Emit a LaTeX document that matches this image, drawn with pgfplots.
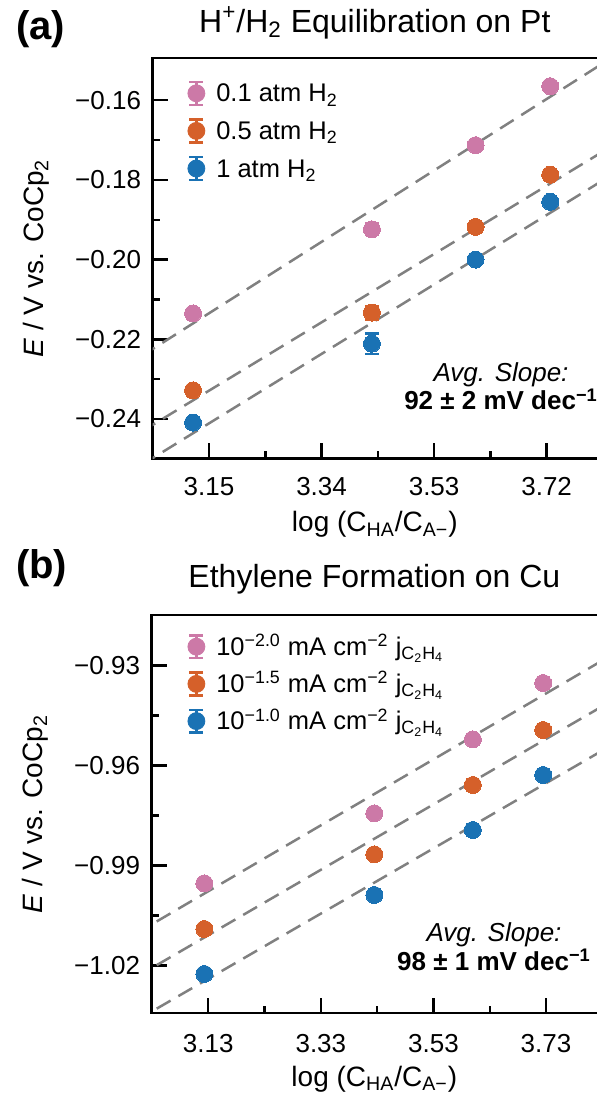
\documentclass[border=0pt]{standalone}
\usepackage{fontspec}
\setmainfont{Liberation Sans}
\usepackage{pgfplots}
\pgfplotsset{compat=1.18}

\definecolor{cpink}{RGB}{204,121,167}
\definecolor{corange}{RGB}{213,96,42}
\definecolor{cblue}{RGB}{26,114,180}
\definecolor{cgray}{RGB}{128,128,128}

% legend symbol: dot with error bar
\newcommand{\legerr}[1]{%
  \draw[#1, line width=1.2pt] (0pt,-1.4pt) -- (0pt,10pt);
  \draw[#1, line width=1.2pt] (-3.5pt,-1.4pt) -- (3.5pt,-1.4pt);
  \draw[#1, line width=1.2pt] (-3.5pt,10pt) -- (3.5pt,10pt);
  \fill[#1] (0pt,4.3pt) circle (4.25pt);}

\pgfplotsset{
  panel/.style={
    scale only axis,
    axis x line*=bottom, axis y line*=left,
    axis line style={-, line width=1.2pt, line cap=rect},
    clip mode=individual,
    tick align=inside,
    major tick length=7.5pt, minor tick length=3.5pt,
    every tick/.style={black, line width=1.2pt},
    ticklabel style={font=\fontsize{13}{15}\selectfont},
    yticklabel style={xshift=-2.3pt},
    label style={font=\fontsize{14}{16}\selectfont},
    xlabel style={at={(axis description cs:0.5,0)}, anchor=base, yshift=-36.6pt},
    ylabel style={at={(axis description cs:-0.2447,0.5)}, anchor=base},
    title style={at={(axis description cs:0.5,1)}, anchor=base, font=\fontsize{16}{19}\selectfont},
    legend cell align=left,
    legend style={draw=none, fill=none, inner sep=0pt, outer sep=0pt, anchor=north west,
      font=\fontsize{12.75}{15}\selectfont, nodes={anchor=base west, inner sep=0pt},
      column sep=5.5pt},
  },
  fitline/.style={cgray, line width=1.25pt, dash pattern=on 8pt off 4.5pt, forget plot},
  pts/.style={only marks, mark=*, mark size=4.25pt, color=#1,
    mark options={draw=#1, fill=#1, line width=0pt},
    error bars/y dir=both, error bars/y explicit,
    error bars/error bar style={#1, line width=1.2pt},
    error bars/error mark options={rotate=90, mark size=3.5pt, line width=1.2pt, #1}},
}

\begin{document}
\begin{tikzpicture}
\useasboundingbox (-76.35pt,29.15pt) rectangle (222.15pt,-518.35pt);

% (a) H+/H2 on Pt
\begin{axis}[panel,
  at={(0pt,0pt)}, anchor=north west,
  width=222.15pt, height=200.1pt,
  xmin=3.0549, xmax=3.805, ymin=-0.2499, ymax=-0.1495,
  xtick={3.15,3.34,3.53,3.72}, xticklabels={3.15,3.34,3.53,3.72},
  minor xtick={3.245,3.435,3.625},
  ytick={-0.24,-0.22,-0.20,-0.18,-0.16},
  yticklabels={−0.24,−0.22,−0.20,−0.18,−0.16},
  minor ytick={-0.23,-0.21,-0.19,-0.17},
  xticklabel style={anchor=base, yshift=-18.25pt},
  xlabel={log (C\textsubscript{HA}/C\textsubscript{A−})},
  ylabel={\textit{E} / V vs. CoCp\textsubscript{2}},
  title={H\textsuperscript{+}/H\textsubscript{2} Equilibration on Pt},
  title style={yshift=7pt},
  legend style={at={(axis description cs:0.0783,0.944)}, row sep=6.2pt},
]
\draw[line width=1.2pt, line cap=rect] (rel axis cs:0,1) -- (rel axis cs:1,1);

\addplot[fitline] coordinates {(3.0,-0.22761) (3.9,-0.14274)};
\addplot[fitline] coordinates {(3.0,-0.24641) (3.9,-0.16523)};
\addplot[fitline] coordinates {(3.0,-0.25484) (3.9,-0.17231)};

\addplot[legend image code/.code={\legerr{cpink}}, pts=cpink] coordinates {
  (3.123,-0.2135) +- (0,0.0005)
  (3.425,-0.1924) +- (0,0.0015)
  (3.600,-0.1713) +- (0,0.0008)
  (3.726,-0.1565) +- (0,0.0005)
};
\addlegendentry{0.1 atm H\textsubscript{2}}
\addplot[legend image code/.code={\legerr{corange}}, pts=corange] coordinates {
  (3.123,-0.2328) +- (0,0.0008)
  (3.425,-0.2133) +- (0,0.0017)
  (3.600,-0.1918) +- (0,0.0010)
  (3.726,-0.1787) +- (0,0.0008)
};
\addlegendentry{0.5 atm H\textsubscript{2}}
\addplot[legend image code/.code={\legerr{cblue}}, pts=cblue] coordinates {
  (3.123,-0.2409) +- (0,0.0006)
  (3.425,-0.2211) +- (0,0.0026)
  (3.600,-0.2000) +- (0,0.0006)
  (3.726,-0.1855) +- (0,0.0008)
};
\addlegendentry{1 atm H\textsubscript{2}}

\node[font=\itshape\fontsize{13}{15}\selectfont, anchor=base] at (axis description cs:0.784,0.1919) {Avg. Slope:};
\node[font=\bfseries\fontsize{13}{15}\selectfont, anchor=base] at (axis description cs:0.784,0.1212) {92 ± 2 mV dec\textsuperscript{−1}};
\node[font=\bfseries\fontsize{20}{22}\selectfont, anchor=base west] at (axis description cs:-0.3234,1.0482) {(a)};
\end{axis}

% (b) ethylene on Cu
\begin{axis}[panel,
  at={(-0.5pt,-278.35pt)}, anchor=north west,
  width=222.65pt, height=199pt,
  xmin=3.0295, xmax=3.8206, ymin=-1.0342, ymax=-0.9148,
  xtick={3.13,3.33,3.53,3.73}, xticklabels={3.13,3.33,3.53,3.73},
  minor xtick={3.23,3.43,3.63},
  ytick={-1.02,-0.99,-0.96,-0.93},
  yticklabels={−1.02,−0.99,−0.96,−0.93},
  minor ytick={-1.005,-0.975,-0.945},
  xticklabel style={anchor=base, yshift=-19.5pt},
  xlabel={log (C\textsubscript{HA}/C\textsubscript{A−})},
  ylabel={\textit{E} / V vs. CoCp\textsubscript{2}},
  title={Ethylene Formation on Cu},
  title style={yshift=7.75pt},
  legend style={at={(axis description cs:0.0804,0.952)}, row sep=6pt},
]
\draw[line width=1.2pt, line cap=rect] (rel axis cs:0,1) -- (rel axis cs:1,1);

\addplot[fitline] coordinates {(3.0,-1.01053) (3.9,-0.92153)};
\addplot[fitline] coordinates {(3.0,-1.02361) (3.9,-0.93532)};
\addplot[fitline] coordinates {(3.0,-1.03665) (3.9,-0.94863)};

\addplot[legend image code/.code={\legerr{cpink}}, pts=cpink] coordinates {
  (3.123,-0.9953) +- (0,0.0008)
  (3.425,-0.9743) +- (0,0.0008)
  (3.600,-0.9521) +- (0,0.0008)
  (3.725,-0.9352) +- (0,0.0008)
};
\addlegendentry{10\textsuperscript{−2.0} mA cm\textsuperscript{−2} j\textsubscript{C\textsubscript{2}H\textsubscript{4}}}
\addplot[legend image code/.code={\legerr{corange}}, pts=corange] coordinates {
  (3.123,-1.0090) +- (0,0.0008)
  (3.425,-0.9866) +- (0,0.0008)
  (3.600,-0.9658) +- (0,0.0008)
  (3.725,-0.9493) +- (0,0.0008)
};
\addlegendentry{10\textsuperscript{−1.5} mA cm\textsuperscript{−2} j\textsubscript{C\textsubscript{2}H\textsubscript{4}}}
\addplot[legend image code/.code={\legerr{cblue}}, pts=cblue] coordinates {
  (3.123,-1.0225) +- (0,0.0008)
  (3.425,-0.9988) +- (0,0.0008)
  (3.600,-0.9793) +- (0,0.0008)
  (3.725,-0.9628) +- (0,0.0008)
};
\addlegendentry{10\textsuperscript{−1.0} mA cm\textsuperscript{−2} j\textsubscript{C\textsubscript{2}H\textsubscript{4}}}

\node[font=\itshape\fontsize{13}{15}\selectfont, anchor=base] at (axis description cs:0.7687,0.1791) {Avg. Slope:};
\node[font=\bfseries\fontsize{13}{15}\selectfont, anchor=base] at (axis description cs:0.7687,0.108) {98 ± 1 mV dec\textsuperscript{−1}};
\node[font=\bfseries\fontsize{20}{22}\selectfont, anchor=base west] at (axis description cs:-0.3205,1.0905) {(b)};
\end{axis}
\end{tikzpicture}
\end{document}
